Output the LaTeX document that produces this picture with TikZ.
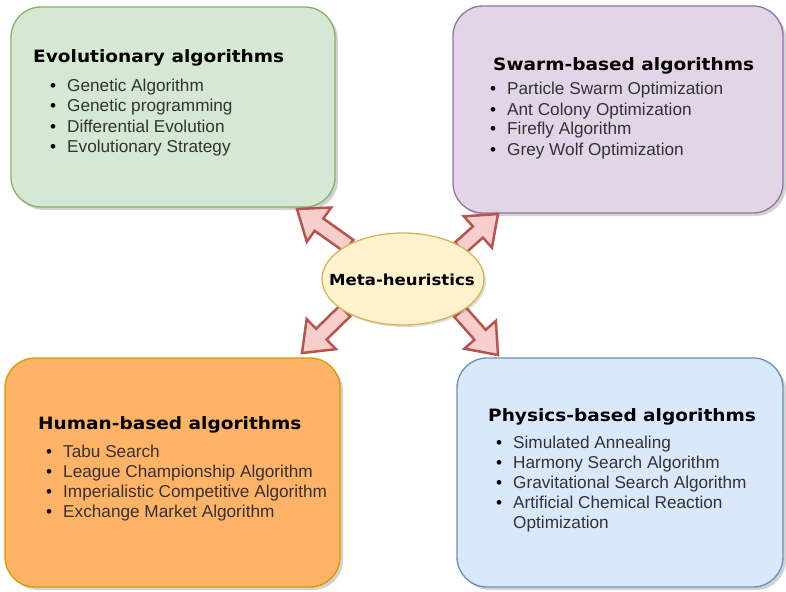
\documentclass[tikz,border=0pt]{standalone}
\usepackage{fontspec}
\setmainfont{Liberation Sans}
\newfontfamily\headfont{DejaVu Sans}[FakeStretch=1.09]
\usetikzlibrary{calc,shadows,shapes.geometric}

\definecolor{greenfill}{HTML}{D5E8D4}\definecolor{greenline}{HTML}{82B366}
\definecolor{purplefill}{HTML}{E1D5E7}\definecolor{purpleline}{HTML}{9673A6}
\definecolor{orangefill}{HTML}{FFB366}\definecolor{orangeline}{HTML}{D79B00}
\definecolor{bluefill}{HTML}{DAE8FC}\definecolor{blueline}{HTML}{6C8EBF}
\definecolor{yellowfill}{HTML}{FFF2CC}\definecolor{yellowline}{HTML}{D6B656}
\definecolor{arrowfill}{HTML}{F8CECC}\definecolor{arrowline}{HTML}{B85450}
\definecolor{itemgray}{HTML}{333333}

% block arrow from #1 (base) to #2 (tip)
\newcommand\blockarrow[3]{%
  \coordinate (#3-h) at ($(#2)!27pt!(#1)$);
  \draw[fatarrow] ($(#1)!7.5pt!90:(#2)$) -- ($(#3-h)!7.5pt!90:(#2)$) -- ($(#3-h)!21pt!90:(#2)$)
     -- (#2) -- ($(#3-h)!21pt!-90:(#2)$) -- ($(#3-h)!7.5pt!-90:(#2)$) -- ($(#1)!7.5pt!-90:(#2)$) -- cycle;}

\begin{document}
\begin{tikzpicture}[x=1pt,y=-1pt,
  box/.style={rectangle, rounded corners=30pt, line width=1.3pt, inner sep=0pt,
    drop shadow={shadow xshift=3pt, shadow yshift=-3pt, opacity=0.25, fill=black!70}},
  heading/.style={anchor=base west, inner sep=0pt, font=\headfont\bfseries\fontsize{17}{20}\selectfont},
  item/.style={anchor=base west, inner sep=0pt, text=itemgray, font=\fontsize{17.2}{20}\selectfont},
  fatarrow/.style={fill=arrowfill, draw=arrowline, line width=2.5pt, line join=miter}]
\useasboundingbox (0,0) rectangle (786,591);

% category boxes
\node[box, fill=greenfill, draw=greenline, minimum width=324pt, minimum height=200pt] (evo) at (173,107) {};
\node[box, fill=purplefill, draw=purpleline, minimum width=330pt, minimum height=207pt] (swarm) at (618,109.5) {};
\node[box, fill=orangefill, draw=orangeline, minimum width=335pt, minimum height=229pt] (human) at (172.5,472.5) {};
\node[box, fill=bluefill, draw=blueline, minimum width=326pt, minimum height=229pt] (phys) at (620,472.5) {};

% connectors
\coordinate (ul-base) at (349,246); \coordinate (ul-tip) at (297,209);
\coordinate (ur-base) at (460,248); \coordinate (ur-tip) at (498,214);
\coordinate (ll-base) at (345,311); \coordinate (ll-tip) at (302,353);
\coordinate (lr-base) at (460,312); \coordinate (lr-tip) at (498,355);
\blockarrow{ul-base}{ul-tip}{ul}
\blockarrow{ur-base}{ur-tip}{ur}
\blockarrow{ll-base}{ll-tip}{ll}
\blockarrow{lr-base}{lr-tip}{lr}

% centre
\node[ellipse, fill=yellowfill, draw=yellowline, line width=1.3pt, minimum width=162pt, minimum height=92pt,
  drop shadow={shadow xshift=2pt, shadow yshift=-2pt, opacity=0.2, fill=black!70}] (meta) at (403,279) {};
\node[anchor=base, inner sep=0pt, font=\headfont\bfseries\fontsize{15.2}{20}\selectfont] (meta-t) at (402,285) {Meta-heuristics};

% texts
\newcommand\bul{\llap{\textcolor{black}{\textbullet}\hspace{11pt}}}
\node[heading] (evo-t) at (33,63) {Evolutionary algorithms};
\foreach \t [count=\i] in {Genetic Algorithm, Genetic programming, Differential Evolution, Evolutionary Strategy}
  \node[item] (evo-\i) at (67,72+20*\i) {\bul\t};

\node[heading] (swarm-t) at (493,71) {Swarm-based algorithms};
\foreach \t [count=\i] in {Particle Swarm Optimization, Ant Colony Optimization, Firefly Algorithm, Grey Wolf Optimization}
  \node[item] (swarm-\i) at (507,75+20*\i) {\bul\t};

\node[heading] (human-t) at (38,429) {Human-based algorithms};
\foreach \t [count=\i] in {Tabu Search, League Championship Algorithm, Imperialistic Competitive Algorithm, Exchange Market Algorithm}
  \node[item] (human-\i) at (63,437+20*\i) {\bul\t};

\node[heading] (phys-t) at (488,421) {Physics-based algorithms};
\foreach \t [count=\i] in {Simulated Annealing, Harmony Search Algorithm, Gravitational Search Algorithm, Artificial Chemical Reaction}
  \node[item] (phys-\i) at (513,428+20*\i) {\bul\t};
\node[item] (phys-5) at (513,528) {Optimization};
\end{tikzpicture}
\end{document}
